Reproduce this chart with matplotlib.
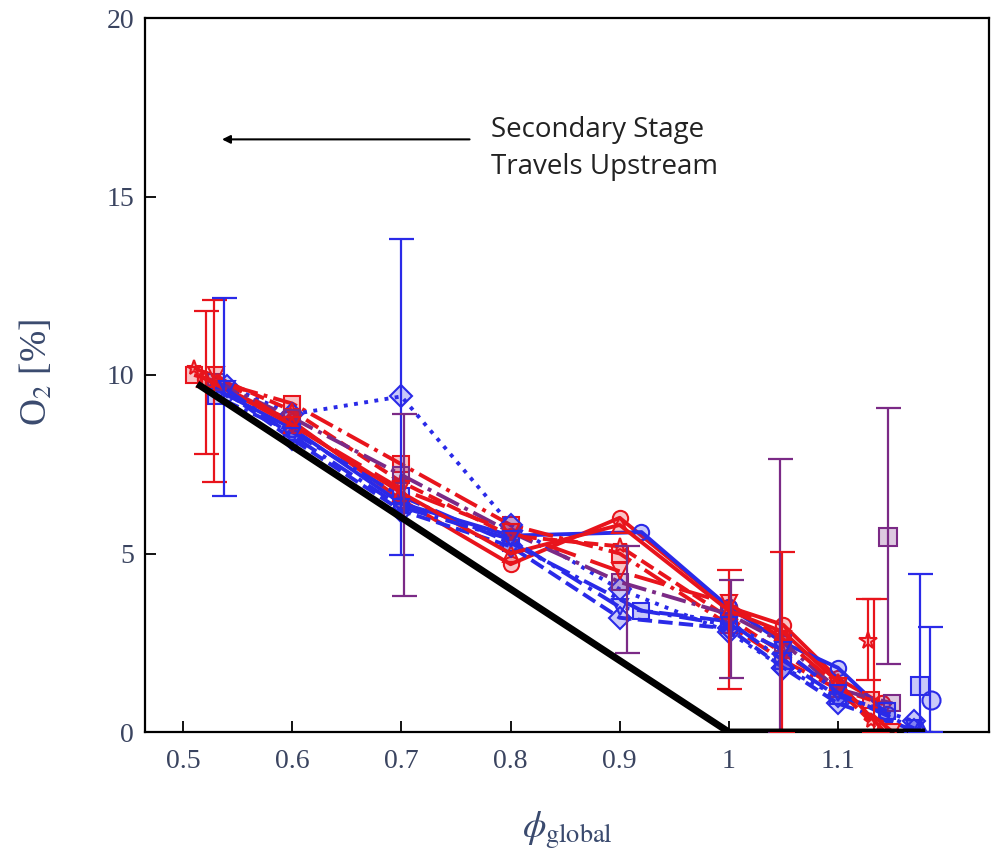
import matplotlib
matplotlib.use("Agg")
import matplotlib.pyplot as plt

plt.rcParams['mathtext.fontset'] = 'stix'

# ---- data ----
phi_A = [0.52, 0.60, 0.70, 0.80, 0.90, 1.00, 1.05, 1.10, 1.14]
phi_B = [0.53, 0.60, 0.70, 0.80, 0.92, 1.00, 1.05, 1.10, 1.145]
phi_C = [0.51, 0.60, 0.70, 0.80, 0.90, 1.00, 1.05, 1.10, 1.13]
phi_D = [0.54, 0.60, 0.70, 0.80, 0.90, 1.00, 1.05, 1.10, 1.17]
phi_E = [0.53, 0.60, 0.70, 0.80, 0.90, 1.00, 1.05, 1.10, 1.15]

o2_red_circle = [9.9, 8.7, 6.5, 4.7, 6.0, 3.5, 3.0, 1.5, 0.8]
o2_blue_circle = [9.6, 8.5, 6.4, 5.5, 5.6, 3.5, 2.5, 1.8, 0.5]
o2_red_dashdot = [10.0, 9.2, 7.5, 5.8, 5.0, 3.0, 2.0, 1.2, 0.9]
o2_blue_dash_diamond = [9.5, 8.2, 6.2, 5.2, 3.2, 2.9, 1.8, 0.8, 0.05]
o2_blue_dot_diamond = [9.7, 8.9, 9.4, 5.8, 4.0, 2.8, 1.8, 1.0, 0.3]
o2_red_dash_star = [10.2, 9.0, 7.0, 5.5, 5.2, 3.2, 2.2, 1.2, 0.3]
o2_purple_square = [9.8, 8.8, 7.2, 5.6, 4.2, 3.3, 2.5, 1.2, 0.8]
o2_blue_square = [9.4, 8.4, 6.6, 5.3, 3.4, 3.1, 2.0, 1.0, 0.6]
o2_red_triangle = [9.9, 8.6, 6.7, 5.0, 5.8, 3.4, 2.8, 1.4, 0.1]
o2_red_longdash = [10.0, 8.6, 6.8, 5.6, 4.5, 3.6, 2.6, 1.3, 0.0]
o2_blue_dashdot = [9.6, 8.3, 6.3, 5.4, 3.5, 3.0, 2.3, 1.1, 0.1]

# isolated end points
end_phi = [1.128, 1.146, 1.175, 1.185, 1.175]
end_o2 = [2.55, 5.46, 1.3, 0.9, 0.1]
end_col = ['red', 'purple', 'blue', 'blue', 'blue']
end_mk = ['*', 's', 's', 'o', '^']

# error bars: x, center, lower, upper, color
eb_x = [0.521, 0.528, 0.537, 0.700, 0.702, 0.907, 1.000, 1.002, 1.047, 1.049, 1.128, 1.133, 1.146, 1.175, 1.184]
eb_c = [10.3, 9.9, 10.1, 9.4, 6.4, 4.2, 3.3, 3.0, 3.0, 2.5, 2.55, 1.2, 5.46, 1.3, 0.9]
eb_lo = [7.8, 7.0, 6.6, 4.95, 3.8, 2.2, 1.2, 1.5, 0.0, 0.0, 1.45, 0.0, 1.9, 0.0, 0.0]
eb_hi = [11.8, 12.1, 12.15, 13.8, 8.9, 5.2, 4.55, 4.25, 7.65, 5.04, 3.72, 3.72, 9.07, 4.42, 2.94]
eb_col = ['red', 'red', 'blue', 'blue', 'purple', 'purple', 'red', 'purple', 'purple', 'red', 'red', 'red', 'purple', 'blue', 'blue']

# stoichiometric equilibrium line
eq_phi = [0.513, 1.0, 1.18]
eq_o2 = [9.75, 0.0, 0.0]

colors = {'red': '#e8141c', 'blue': '#2a2ae8', 'purple': '#7b2a86'}

fig = plt.figure(figsize=(9.94, 8.49), dpi=100)
ax = fig.add_axes([145/994, (849-732)/849, (989-145)/994, (732-18)/849])

series = [
    (phi_A, o2_red_circle, 'red', '-', 'o'),
    (phi_B, o2_blue_circle, 'blue', '-', 'o'),
    (phi_C, o2_red_dashdot, 'red', '-.', 's'),
    (phi_D, o2_blue_dash_diamond, 'blue', '--', 'D'),
    (phi_D, o2_blue_dot_diamond, 'blue', ':', 'D'),
    (phi_C, o2_red_dash_star, 'red', '--', '*'),
    (phi_E, o2_purple_square, 'purple', '-.', 's'),
    (phi_B, o2_blue_square, 'blue', '-.', 's'),
    (phi_A, o2_red_triangle, 'red', '-', '^'),
    (phi_E, o2_red_longdash, 'red', (0, (8, 4)), 'v'),
    (phi_D, o2_blue_dashdot, 'blue', (0, (6, 2, 1, 2)), 'v'),
]

for x, y, c, ls, m in series:
    col = colors[c]
    ax.plot(x, y, color=col, linestyle=ls, linewidth=2.8, marker=m,
            markersize=11, markerfacecolor=col + '40', markeredgecolor=col,
            markeredgewidth=1.5, zorder=3)

for x, y, c, m in zip(end_phi, end_o2, end_col, end_mk):
    col = colors[c]
    ax.plot([x], [y], linestyle='none', marker=m, markersize=13,
            markerfacecolor=col + '40', markeredgecolor=col,
            markeredgewidth=1.5, zorder=3)

for x, c, lo, hi, col in zip(eb_x, eb_c, eb_lo, eb_hi, eb_col):
    ax.errorbar([x], [c], yerr=[[c - lo], [hi - c]], fmt='none',
                ecolor=colors[col], elinewidth=1.6, capsize=9, capthick=1.6,
                zorder=4)

ax.plot(eq_phi, eq_o2, color='black', linewidth=5, zorder=5,
        solid_capstyle='butt')

ax.set_xlim(0.465, 1.2385)
ax.set_ylim(0, 20)
ax.set_xticks([0.5, 0.6, 0.7, 0.8, 0.9, 1.0, 1.1])
ax.set_xticklabels(['0.5', '0.6', '0.7', '0.8', '0.9', '1', '1.1'])
ax.set_yticks([0, 5, 10, 15, 20])
serif = ['Liberation Serif', 'DejaVu Serif']
for lab in ax.get_xticklabels() + ax.get_yticklabels():
    lab.set_fontfamily(serif)
    lab.set_fontsize(20)
    lab.set_color('#3a4460')
ax.tick_params(direction='in', length=8, width=1.3, pad=8)
ax.tick_params(axis='x', pad=12)
for s in ax.spines.values():
    s.set_linewidth(1.6)

ax.set_ylabel(r'O$_2$ [%]', fontsize=27, color='#3a4a6e', family=serif)
ax.yaxis.set_label_coords(-0.107, 0.504)
ax.set_xlabel(r'$\phi_{\mathrm{global}}$', fontsize=27, color='#3a4a6e')
ax.xaxis.set_label_coords(0.5, -0.108)

ax.annotate('', xy=(0.533, 16.6), xytext=(0.765, 16.6),
            arrowprops=dict(arrowstyle='-|>', color='black', lw=1.5,
                            mutation_scale=12))
ax.text(0.782, 16.35, 'Secondary Stage\nTravels Upstream', fontsize=20,
        family=['Open Sans', 'DejaVu Sans'], va='center', ha='left',
        color='#222222', linespacing=1.45)

fig.savefig('out.png', dpi=100)
